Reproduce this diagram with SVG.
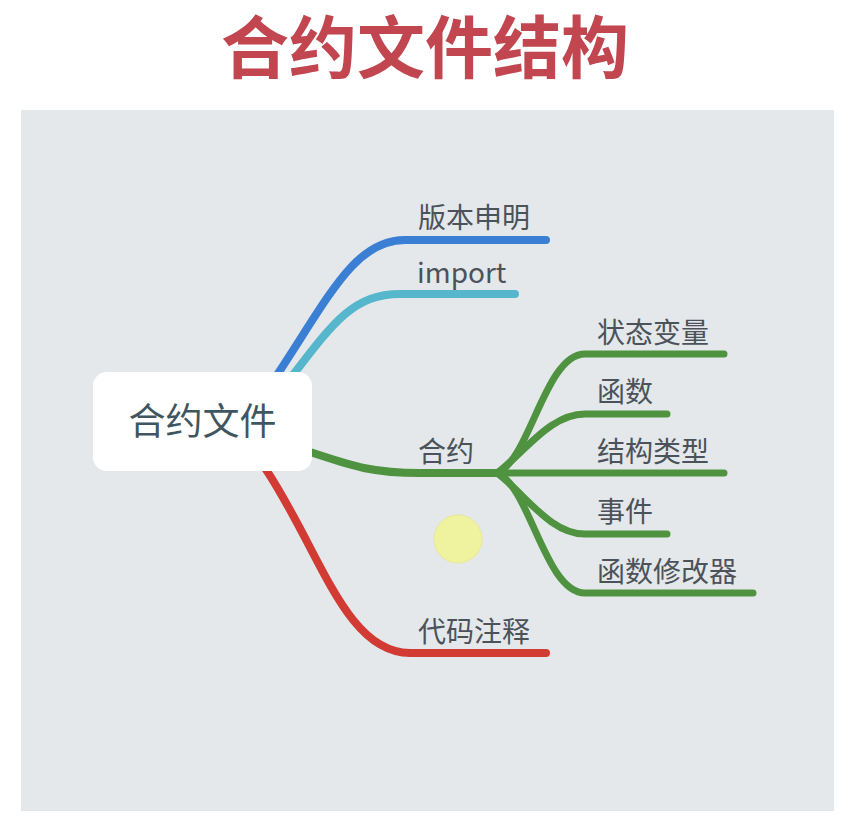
<svg xmlns="http://www.w3.org/2000/svg" width="862" height="832" viewBox="0 0 862 832">
<style>
.lbl{font-family:"Noto Sans CJK SC","Noto Sans",sans-serif;font-size:28px;fill:#4b5259}
.br{fill:none;stroke-linecap:round;stroke-linejoin:round}
.g{stroke:#4f9340;stroke-width:7}
</style>
<rect x="0" y="0" width="862" height="832" fill="#ffffff"/>
<text x="425" y="73" text-anchor="middle" font-family="'Noto Sans CJK SC',sans-serif" font-weight="700" font-size="68" fill="#c1464f">合约文件结构</text>
<rect x="21" y="110" width="813" height="701" fill="#e4e8eb"/>
<g id="connectors">
<path class="br" stroke="#3b7fd4" stroke-width="8" d="M 277 375 C 330 295, 355 240, 405 240 L 546 240"/>
<path class="br" stroke="#56b6cc" stroke-width="8" d="M 293 375 C 335 320, 355 294, 400 294 L 515 294"/>
<path class="br" stroke="#4f9340" stroke-width="8" d="M 310 452 C 350 465, 370 473, 420 473 L 497 473"/>
<path class="br" stroke="#d13b33" stroke-width="8" d="M 265 468 C 320 550, 345 653, 410 653 L 546 653"/>
<path class="br g" d="M 497 473 C 530 460, 545 354, 585 354 L 724 354"/>
<path class="br g" d="M 497 473 C 525 452, 550 414, 585 414 L 667 414"/>
<path class="br g" d="M 497 473 L 724 473"/>
<path class="br g" d="M 497 473 C 525 494, 550 534, 585 534 L 667 534"/>
<path class="br g" d="M 497 473 C 530 486, 545 593, 585 593 L 753 593"/>
</g>
<g id="root">
<rect x="93" y="372" width="219" height="99" rx="14" fill="#ffffff"/>
<text x="202.5" y="435" text-anchor="middle" font-family="'Noto Sans CJK SC',sans-serif" font-size="37" fill="#3f5661">合约文件</text>
</g>
<g id="n-version"><text class="lbl" x="418" y="228">版本申明</text></g>
<g id="n-import"><text class="lbl" x="417" y="283">import</text></g>
<g id="n-contract"><text class="lbl" x="418" y="462">合约</text></g>
<g id="n-comment"><text class="lbl" x="418" y="642">代码注释</text></g>
<g id="n-state"><text class="lbl" x="597" y="343">状态变量</text></g>
<g id="n-func"><text class="lbl" x="597" y="402">函数</text></g>
<g id="n-struct"><text class="lbl" x="597" y="462">结构类型</text></g>
<g id="n-event"><text class="lbl" x="597" y="522">事件</text></g>
<g id="n-modifier"><text class="lbl" x="597" y="582">函数修改器</text></g>
<circle cx="458" cy="539" r="24" fill="#eff3a0" stroke="#e6ea90" stroke-width="1"/>
</svg>
